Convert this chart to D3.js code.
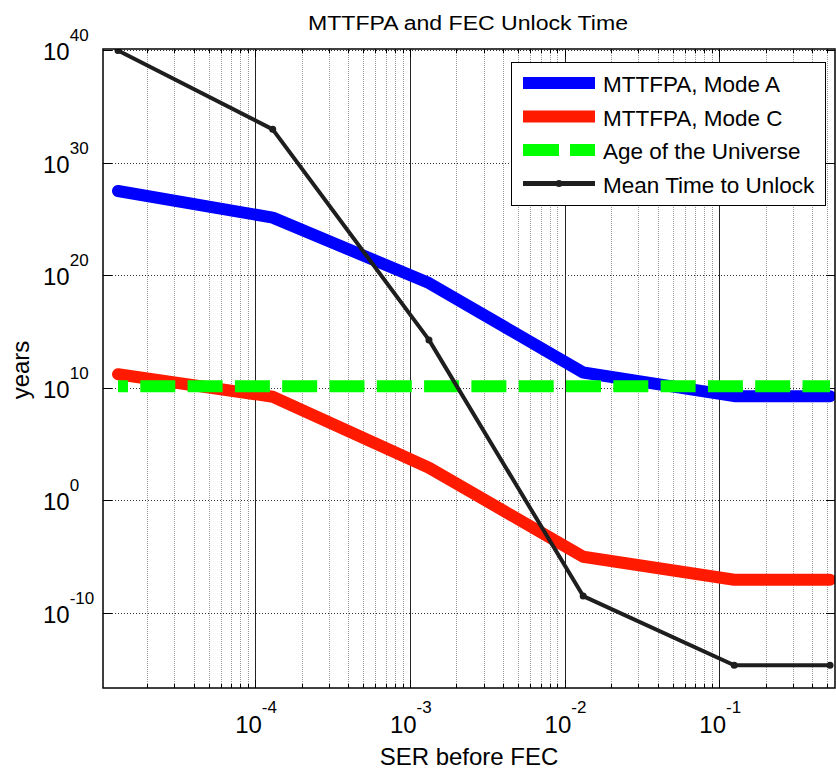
<!DOCTYPE html>
<head>
    <style>
        body {
            margin: 0;
            background: white;
            font-family: "Liberation Sans", Arial, Helvetica;
        }
        .grid-minor {
            stroke: #999;
            stroke-width: 1;
            stroke-dasharray: 1,1;
        }
        .grid-major-x {
            stroke: #222;
            stroke-width: 1;
        }
        .grid-major-y {
            stroke: #333;
            stroke-width: 1;
            stroke-dasharray: 1,2;
        }
        .tick-label {
            font-size: 24px;
            fill: #000;
        }
        .legend text {
            font-size: 22.5px;
        }
    </style>
</head>
<body>
</body>
<script src="https://d3js.org/d3.v7.min.js"></script>
<script>
// values
var serValues = [1.3e-5, 1.3e-4, 1.33e-3, 1.32e-2, 1.25e-1, 5.2e-1];
var mttfpaModeA = [3e27, 1.3e25, 2e19, 2.3e11, 1.8e9, 1.8e9];
var mttfpaModeC = [1.6e11, 1.6e9, 8e2, 1e-5, 9e-8, 9e-8];
var ageOfUniverse = [1.38e10, 1.38e10];
var ageX = [1.3e-5, 5.2e-1];
var meanTimeToUnlock = [9e39, 9e32, 1.8e14, 3.2e-9, 2.3e-15, 2.3e-15];

var xTickExps = [-4, -3, -2, -1];
var yTickExps = [-10, 0, 10, 20, 30, 40];
var legendLabels = ["MTTFPA, Mode A", "MTTFPA, Mode C", "Age of the Universe", "Mean Time to Unlock"];

var width = 836, height = 769;
var plot = {left: 103, right: 835, top: 49, bottom: 688};

var svg = d3.select("body").append("svg")
    .attr("width", width)
    .attr("height", height);

svg.append("rect").attr("width", width).attr("height", height).attr("fill", "white");

var x = d3.scaleLog().domain([1.04e-5, 0.56]).range([plot.left, plot.right]);
var y = d3.scaleLog().domain([Math.pow(10, -16.66), Math.pow(10, 40.09)]).range([plot.bottom, plot.top]);

// minor x positions: 2..9 in every decade inside the domain
var minorX = [];
for (var e = -5; e <= -1; e++) {
    for (var m = 2; m <= 9; m++) {
        var v = m * Math.pow(10, e);
        if (v > x.domain()[0] && v < x.domain()[1]) minorX.push(v);
    }
}
var majorX = xTickExps.map(function(p) { return Math.pow(10, p); });
var majorY = yTickExps.map(function(p) { return Math.pow(10, p); });

var grid = svg.append("g").attr("class", "grid");

grid.selectAll(".grid-minor").data(minorX).enter().append("line")
    .attr("class", "grid-minor")
    .attr("x1", function(d) { return Math.round(x(d)) + 0.5; })
    .attr("x2", function(d) { return Math.round(x(d)) + 0.5; })
    .attr("y1", plot.top)
    .attr("y2", plot.bottom);

grid.selectAll(".grid-major-x").data(majorX).enter().append("line")
    .attr("class", "grid-major-x")
    .attr("x1", function(d) { return Math.round(x(d)) + 0.5; })
    .attr("x2", function(d) { return Math.round(x(d)) + 0.5; })
    .attr("y1", plot.top)
    .attr("y2", plot.bottom);

grid.selectAll(".grid-major-y").data(majorY).enter().append("line")
    .attr("class", "grid-major-y")
    .attr("x1", plot.left)
    .attr("x2", plot.right)
    .attr("y1", function(d) { return Math.round(y(d)) + 0.5; })
    .attr("y2", function(d) { return Math.round(y(d)) + 0.5; });

// tick marks (inward, on all four sides)
var ticks = svg.append("g").attr("stroke", "#000").attr("stroke-width", 1);
minorX.forEach(function(d) {
    var px = Math.round(x(d)) + 0.5;
    ticks.append("line").attr("x1", px).attr("x2", px).attr("y1", plot.bottom).attr("y2", plot.bottom - 4);
    ticks.append("line").attr("x1", px).attr("x2", px).attr("y1", plot.top).attr("y2", plot.top + 4);
});
majorX.forEach(function(d) {
    var px = Math.round(x(d)) + 0.5;
    ticks.append("line").attr("x1", px).attr("x2", px).attr("y1", plot.bottom).attr("y2", plot.bottom - 8);
    ticks.append("line").attr("x1", px).attr("x2", px).attr("y1", plot.top).attr("y2", plot.top + 8);
});
majorY.forEach(function(d) {
    var py = Math.round(y(d)) + 0.5;
    ticks.append("line").attr("x1", plot.left).attr("x2", plot.left + 9).attr("y1", py).attr("y2", py);
    ticks.append("line").attr("x1", plot.right).attr("x2", plot.right - 9).attr("y1", py).attr("y2", py);
});

// data lines
svg.append("defs").append("clipPath").attr("id", "plot-clip")
    .append("rect")
    .attr("x", plot.left).attr("y", plot.top)
    .attr("width", plot.right - plot.left).attr("height", plot.bottom - plot.top);

var lines = svg.append("g").attr("clip-path", "url(#plot-clip)");

var line = d3.line()
    .x(function(d) { return x(d[0]); })
    .y(function(d) { return y(d[1]); });

function pairs(xs, ys) {
    return xs.map(function(v, i) { return [v, ys[i]]; });
}

lines.append("path")
    .attr("d", line(pairs(serValues, mttfpaModeA)))
    .attr("fill", "none")
    .attr("stroke", "#0000ff")
    .attr("stroke-width", 12)
    .attr("stroke-linejoin", "round")
    .attr("stroke-linecap", "round");

lines.append("path")
    .attr("d", line(pairs(serValues, mttfpaModeC)))
    .attr("fill", "none")
    .attr("stroke", "#ff1a00")
    .attr("stroke-width", 12)
    .attr("stroke-linejoin", "round")
    .attr("stroke-linecap", "round");

lines.append("path")
    .attr("d", line(pairs(ageX, ageOfUniverse)))
    .attr("fill", "none")
    .attr("stroke", "#00ff00")
    .attr("stroke-width", 12)
    .attr("stroke-dasharray", "35,12.3")
    .attr("stroke-dashoffset", 25);

lines.append("path")
    .attr("d", line(pairs(serValues, meanTimeToUnlock)))
    .attr("fill", "none")
    .attr("stroke", "#1e1e1e")
    .attr("stroke-width", 4)
    .attr("stroke-linejoin", "round");

lines.selectAll(".marker")
    .data(pairs(serValues, meanTimeToUnlock))
    .enter().append("circle")
    .attr("class", "marker")
    .attr("cx", function(d) { return x(d[0]); })
    .attr("cy", function(d) { return y(d[1]); })
    .attr("r", 3.5)
    .attr("fill", "#1e1e1e");

// axes frame
svg.append("rect")
    .attr("x", plot.left).attr("y", plot.top)
    .attr("width", plot.right - plot.left).attr("height", plot.bottom - plot.top)
    .attr("fill", "none")
    .attr("stroke", "#000")
    .attr("stroke-width", 1.5);

// tick labels
var xl = svg.append("g");
xTickExps.forEach(function(p) {
    var t = xl.append("text")
        .attr("class", "tick-label")
        .attr("x", x(Math.pow(10, p)) + 1)
        .attr("y", 733)
        .attr("text-anchor", "middle");
    t.append("tspan").text("10");
    t.append("tspan").attr("dy", -20).attr("font-size", 17).text(String(p));
});

var yl = svg.append("g");
yTickExps.forEach(function(p) {
    var t = yl.append("text")
        .attr("class", "tick-label")
        .attr("x", 43)
        .attr("y", y(Math.pow(10, p)) + 10)
        .attr("text-anchor", "start");
    t.append("tspan").text("10");
    t.append("tspan").attr("dy", -19).attr("font-size", 17).text(String(p));
});

// title and axis labels
svg.append("text")
    .attr("x", 468)
    .attr("y", 30)
    .attr("text-anchor", "middle")
    .attr("font-size", 20)
    .attr("textLength", 320)
    .attr("lengthAdjust", "spacingAndGlyphs")
    .text("MTTFPA and FEC Unlock Time");

svg.append("text")
    .attr("x", 469)
    .attr("y", 765)
    .attr("text-anchor", "middle")
    .attr("font-size", 24)
    .text("SER before FEC");

svg.append("text")
    .attr("transform", "translate(29,370) rotate(-90)")
    .attr("text-anchor", "middle")
    .attr("font-size", 24)
    .text("years");

// legend
var legend = svg.append("g").attr("class", "legend");
legend.append("rect")
    .attr("x", 511.5).attr("y", 62.5)
    .attr("width", 314).attr("height", 143)
    .attr("fill", "white")
    .attr("stroke", "#000")
    .attr("stroke-width", 1);

var legendStyles = [
    {color: "#0000ff", w: 12, dash: null, marker: false},
    {color: "#ff1a00", w: 12, dash: null, marker: false},
    {color: "#00ff00", w: 12, dash: "36,11", marker: false},
    {color: "#1e1e1e", w: 5, dash: null, marker: true}
];

legendLabels.forEach(function(label, i) {
    var cy = 83 + i * 33.5;
    var s = legendStyles[i];
    var l = legend.append("line")
        .attr("x1", 523).attr("x2", 595)
        .attr("y1", cy).attr("y2", cy)
        .attr("stroke", s.color)
        .attr("stroke-width", s.w);
    if (s.dash) l.attr("stroke-dasharray", s.dash);
    if (s.marker) {
        legend.append("circle").attr("cx", 559).attr("cy", cy).attr("r", 3.5).attr("fill", s.color);
    }
    legend.append("text")
        .attr("x", 603)
        .attr("y", cy + 9)
        .text(label);
});
</script>
